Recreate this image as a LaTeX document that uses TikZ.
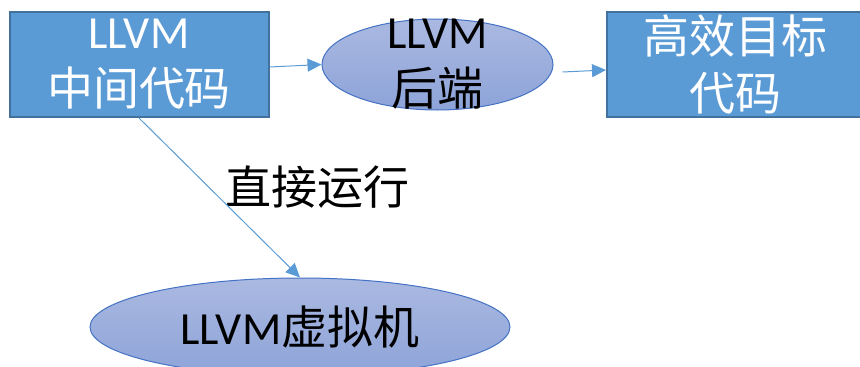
\documentclass[tikz,border=0pt]{standalone}
\usepackage{fontspec}
\setmainfont{Carlito}
\newfontfamily\cjk{Noto Sans CJK SC}
\usetikzlibrary{shapes.geometric,arrows.meta,calc}
\definecolor{boxfill}{HTML}{5B9BD5}
\definecolor{boxline}{HTML}{41719C}
\definecolor{ellline}{HTML}{4472C4}
\definecolor{elltop}{HTML}{AAB9E1}
\definecolor{ellbot}{HTML}{8DA3D8}
\definecolor{arrowc}{HTML}{5B9BD5}
\tikzset{
  boxnode/.style={rectangle, draw=boxline, line width=2pt, fill=boxfill, inner sep=0pt},
  ellnode/.style={ellipse, draw=ellline, line width=1pt, top color=elltop, bottom color=ellbot, inner sep=0pt},
  bigtxt/.style={inner sep=0pt, align=center, font=\fontsize{46}{57}\selectfont},
  conn/.style={draw=arrowc, line width=1pt, -{Triangle[length=14pt,width=13pt]}, color=arrowc}
}
\begin{document}
\begin{tikzpicture}[x=1pt,y=-1pt]
\clip (0,0) rectangle (860,367);
\node[boxnode, minimum width=259pt, minimum height=105pt] (b1) at (139,64.5) {};
\node[ellnode, minimum width=231pt, minimum height=91pt] (e1) at (437.5,64.5) {};
\node[boxnode, minimum width=256pt, minimum height=105pt] (b3) at (735,64.5) {};
\node[ellnode, minimum width=420pt, minimum height=98pt] (e2) at (300,327) {};
\node[bigtxt, text=white] (t1) at (b1) {LLVM\\{\cjk 中间代码}};
\node[bigtxt, text=black] (t2) at (e1) {LLVM\\{\cjk 后端}};
\node[bigtxt, text=white] (t3) at (b3) {{\cjk 高效目标}\\{\cjk 代码}};
\node[bigtxt, text=black] (t4) at (e2) {LLVM{\cjk 虚拟机}};
\node[bigtxt, text=black] (lab) at (317,187) {{\cjk 直接运行}};
\draw[conn] ($(b1.east)+(0,2.5)$) -- (e1.west);
\draw[conn] ($(e1.east)+(9,7.5)$) -- ($(b3.west)+(0,5.5)$);
\draw[conn] (b1.south) -- (e2.north);
\end{tikzpicture}
\end{document}
